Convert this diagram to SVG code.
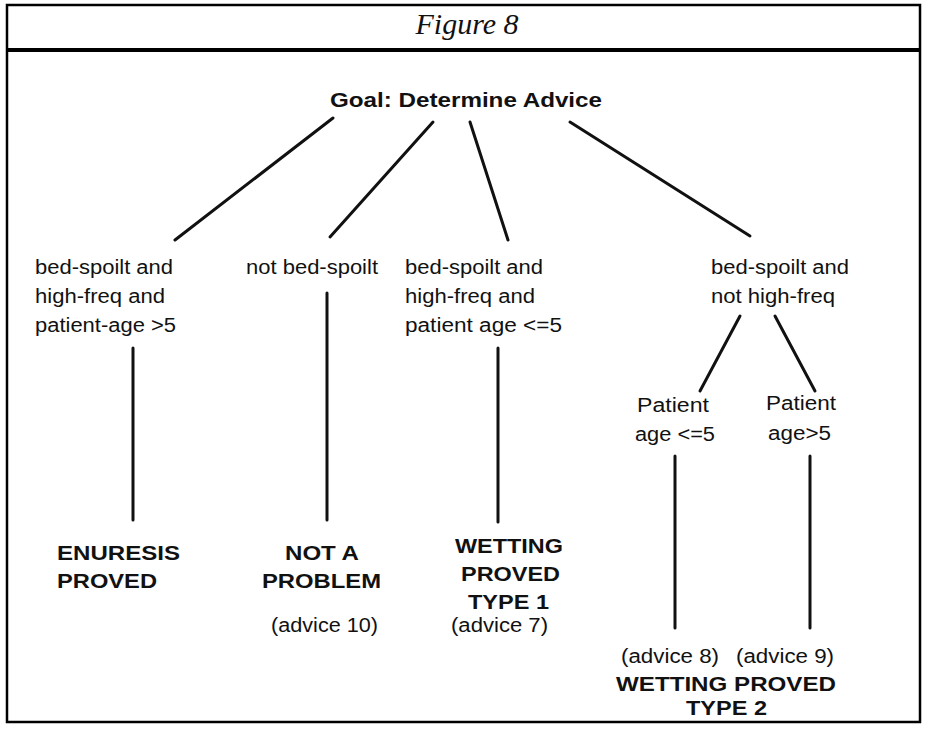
<svg xmlns="http://www.w3.org/2000/svg" width="933" height="736" viewBox="0 0 933 736">
<style>
.frame{fill:none;stroke:#000;stroke-width:2.5}
.hdr{stroke:#000;stroke-width:4}
.c line{stroke:#111;stroke-width:3;stroke-linecap:round}
.t{font-family:"Liberation Sans",Arial,Helvetica,sans-serif;font-size:20px;fill:#111}
.b{font-family:"Liberation Sans",Arial,Helvetica,sans-serif;font-size:20px;font-weight:bold;fill:#111}
.title{font-family:"Liberation Serif","Times New Roman",serif;font-style:italic;font-size:30px;fill:#111}
</style>
<rect width="933" height="736" fill="#fff"/>
<rect class="frame" x="7" y="5" width="913" height="717"/>
<line class="hdr" x1="7" y1="50" x2="920" y2="50"/>
<text class="title" x="467" y="34" text-anchor="middle">Figure 8</text>

<g id="goal"><text class="b" x="330" y="107" font-size="19" textLength="272" lengthAdjust="spacingAndGlyphs">Goal:  Determine  Advice</text></g>

<g id="n1">
<text class="t" x="35" y="274" textLength="138" lengthAdjust="spacingAndGlyphs">bed-spoilt and</text>
<text class="t" x="35" y="303" textLength="130" lengthAdjust="spacingAndGlyphs">high-freq and</text>
<text class="t" x="35" y="332" textLength="141" lengthAdjust="spacingAndGlyphs">patient-age &gt;5</text>
</g>
<g id="n2"><text class="t" x="246" y="274" textLength="132" lengthAdjust="spacingAndGlyphs">not bed-spoilt</text></g>
<g id="n3">
<text class="t" x="405" y="274" textLength="138" lengthAdjust="spacingAndGlyphs">bed-spoilt and</text>
<text class="t" x="405" y="303" textLength="130" lengthAdjust="spacingAndGlyphs">high-freq and</text>
<text class="t" x="405" y="332" textLength="157" lengthAdjust="spacingAndGlyphs">patient age &lt;=5</text>
</g>
<g id="n4">
<text class="t" x="711" y="274" textLength="138" lengthAdjust="spacingAndGlyphs">bed-spoilt and</text>
<text class="t" x="711" y="303" textLength="124" lengthAdjust="spacingAndGlyphs">not high-freq</text>
</g>
<g id="n5">
<text class="t" x="637" y="412" textLength="72" lengthAdjust="spacingAndGlyphs">Patient</text>
<text class="t" x="635" y="441" textLength="80" lengthAdjust="spacingAndGlyphs">age &lt;=5</text>
</g>
<g id="n6">
<text class="t" x="766" y="410" textLength="70" lengthAdjust="spacingAndGlyphs">Patient</text>
<text class="t" x="768" y="440" textLength="63" lengthAdjust="spacingAndGlyphs">age&gt;5</text>
</g>
<g id="r1">
<text class="b" x="57" y="560" textLength="123" lengthAdjust="spacingAndGlyphs">ENURESIS</text>
<text class="b" x="57" y="588" textLength="100" lengthAdjust="spacingAndGlyphs">PROVED</text>
</g>
<g id="r2">
<text class="b" x="285" y="560" textLength="74" lengthAdjust="spacingAndGlyphs">NOT A</text>
<text class="b" x="262" y="588" textLength="119" lengthAdjust="spacingAndGlyphs">PROBLEM</text>
<text class="t" x="271" y="632" textLength="107" lengthAdjust="spacingAndGlyphs">(advice 10)</text>
</g>
<g id="r3">
<text class="b" x="455" y="553" textLength="108" lengthAdjust="spacingAndGlyphs">WETTING</text>
<text class="b" x="461" y="581" textLength="99" lengthAdjust="spacingAndGlyphs">PROVED</text>
<text class="b" x="468" y="609" textLength="81" lengthAdjust="spacingAndGlyphs">TYPE 1</text>
<text class="t" x="451" y="632" textLength="97" lengthAdjust="spacingAndGlyphs">(advice 7)</text>
</g>
<g id="r4">
<text class="t" x="621" y="663" textLength="98" lengthAdjust="spacingAndGlyphs">(advice 8)</text>
<text class="t" x="736" y="663" textLength="98" lengthAdjust="spacingAndGlyphs">(advice 9)</text>
<text class="b" x="616" y="691" textLength="220" lengthAdjust="spacingAndGlyphs">WETTING  PROVED</text>
<text class="b" x="686" y="715" textLength="81" lengthAdjust="spacingAndGlyphs">TYPE 2</text>
</g>

<g id="connectors" class="c">
<line x1="333" y1="118" x2="175" y2="240"/>
<line x1="433" y1="122" x2="330" y2="237"/>
<line x1="470" y1="122" x2="508" y2="240"/>
<line x1="570" y1="122" x2="750" y2="236"/>
<line x1="133" y1="348" x2="133" y2="520"/>
<line x1="327" y1="293" x2="327" y2="520"/>
<line x1="498" y1="348" x2="498" y2="522"/>
<line x1="740" y1="316" x2="700" y2="391"/>
<line x1="775" y1="316" x2="815" y2="391"/>
<line x1="675" y1="456" x2="675" y2="628"/>
<line x1="810" y1="456" x2="810" y2="628"/>
</g>
</svg>
